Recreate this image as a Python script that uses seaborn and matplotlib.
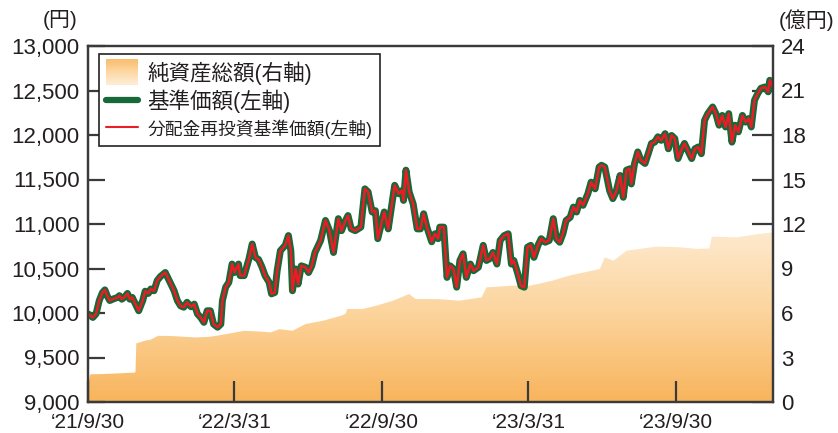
import numpy as np
import pandas as pd
import matplotlib
matplotlib.use("Agg")
import matplotlib.pyplot as plt
import matplotlib.dates as mdates
from matplotlib.colors import LinearSegmentedColormap
from matplotlib.legend_handler import HandlerBase
from matplotlib.patches import Rectangle, Patch
from matplotlib.lines import Line2D
import seaborn as sns

# ---------------- data ----------------
START_DATE = "2021-09-30"

nav_days = [
    0, 6, 10, 14, 18, 21, 24, 27, 32, 37,
    39, 42, 45, 49, 52, 55, 59, 63, 68, 71,
    75, 78, 82, 86, 90, 96, 99, 103, 107, 111,
    115, 119, 123, 128, 132, 136, 140, 144, 148, 152,
    156, 161, 165, 167, 171, 175, 179, 182, 187, 189,
    194, 200, 204, 208, 212, 216, 220, 225, 228, 232,
    235, 239, 245, 249, 252, 254, 258, 261, 265, 270,
    274, 278, 282, 289, 295, 300, 305, 311, 315, 319,
    323, 327, 332, 339, 344, 348, 353, 357, 360, 364,
    368, 373, 381, 386, 390, 392, 395, 399, 404, 409,
    413, 417, 421, 427, 431, 435, 437, 442, 446, 450,
    454, 458, 462, 466, 470, 475, 479, 485, 491, 495,
    499, 503, 508, 512, 517, 522, 526, 529, 534, 538,
    542, 546, 550, 554, 559, 563, 568, 573, 578, 582,
    586, 590, 594, 599, 603, 607, 611, 615, 621, 625,
    630, 635, 638, 642, 648, 652, 656, 661, 665, 669,
    673, 675, 679, 683, 687, 692, 696, 700, 704, 708,
    712, 717, 721, 725, 729, 733, 737, 741, 745, 750,
    754, 758, 762, 766, 770, 776, 780, 784, 788, 792,
    796, 800, 804, 808, 813, 817, 821, 824, 828, 832,
    836, 841, 845, 847, 851,
]
nav_values = [
    9990, 9950, 9990, 10140, 10230, 10260, 10190, 10140, 10160, 10175,
    10195, 10155, 10175, 10220, 10155, 10175, 10100, 10025, 10140, 10245,
    10220, 10270, 10250, 10365, 10410, 10455, 10400, 10325, 10250, 10140,
    10080, 10065, 10120, 10070, 10100, 9990, 9950, 9895, 10025, 10025,
    9875, 9840, 9875, 10140, 10290, 10345, 10550, 10455, 10550, 10420,
    10420, 10610, 10775, 10625, 10600, 10520, 10420, 10345, 10215, 10230,
    10475, 10700, 10760, 10870, 10700, 10250, 10495, 10325, 10530, 10515,
    10455, 10530, 10680, 10815, 11040, 10925, 10680, 11060, 10925, 11020,
    11095, 10945, 10925, 10965, 11395, 11360, 11135, 11150, 10835, 10985,
    11135, 10945, 11435, 11340, 11375, 11265, 11605, 11360, 11225, 10945,
    10945, 11115, 10965, 10800, 10890, 10835, 10965, 10965, 10400, 10530,
    10495, 10290, 10590, 10665, 10400, 10550, 10475, 10515, 10760, 10590,
    10610, 10680, 10550, 10815, 10870, 10890, 10550, 10590, 10440, 10305,
    10290, 10740, 10760, 10625, 10760, 10835, 10795, 10815, 11060, 10835,
    10795, 10890, 11040, 11075, 11190, 11135, 11265, 11210, 11340, 11470,
    11395, 11640, 11660, 11640, 11375, 11285, 11360, 11545, 11300, 11605,
    11620, 11450, 11680, 11810, 11715, 11680, 11790, 11905, 11920, 11980,
    11940, 12015, 11845, 11995, 11960, 11735, 11830, 11905, 11830, 11735,
    11845, 11865, 11790, 12165, 12240, 12315, 12240, 12110, 12220, 12090,
    12240, 11920, 12110, 12035, 12220, 12145, 12185, 12090, 12390, 12465,
    12525, 12540, 12485, 12615, 12540,
]
# no distributions were paid, so the reinvested NAV coincides with the NAV
nav_reinvested_values = list(nav_values)

assets_days = [
    0, 3, 16, 34, 57, 59, 60, 72, 78, 87,
    103, 134, 152, 172, 194, 214, 227, 238, 254, 270,
    292, 314, 320, 322, 341, 358, 379, 399, 407, 434,
    461, 489, 495, 527, 549, 577, 598, 636, 642, 653,
    669, 707, 735, 756, 772, 775, 806, 833, 851,
]
assets_values = [  # 億円
    1.2, 1.87, 1.88, 1.92, 1.98, 2.0, 3.95, 4.15, 4.2, 4.46,
    4.45, 4.35, 4.4, 4.58, 4.8, 4.75, 4.69, 4.91, 4.8, 5.25,
    5.48, 5.81, 5.95, 6.27, 6.27, 6.49, 6.83, 7.28, 6.94, 6.94,
    6.83, 7.05, 7.73, 7.84, 7.84, 8.18, 8.52, 8.97, 9.75, 9.53,
    10.2, 10.48, 10.43, 10.32, 10.35, 11.15, 11.1, 11.33, 11.44,
]

xtick_dates = ["2021-09-30", "2022-03-31", "2022-09-30", "2023-03-31", "2023-09-30"]
xtick_labels = ["‘21/9/30", "‘22/3/31", "‘22/9/30", "‘23/3/31", "‘23/9/30"]
left_ticks = [9000, 9500, 10000, 10500, 11000, 11500, 12000, 12500, 13000]
right_ticks = [0, 3, 6, 9, 12, 15, 18, 21, 24]
legend_labels = ["純資産総額(右軸)", "基準価額(左軸)", "分配金再投資基準価額(左軸)"]
left_unit = "(円)"
right_unit = "(億円)"

assert len(nav_days) == len(nav_values)
assert len(assets_days) == len(assets_values)

# ---------------- style ----------------
sns.set_theme(style="ticks")
FONTS = ["Liberation Sans", "Noto Sans CJK JP", "DejaVu Sans"]
plt.rcParams["font.family"] = FONTS
plt.rcParams["axes.unicode_minus"] = False

GREEN = "#17693a"
RED = "#ec1c24"
AXC = "#3a3a3a"
TXT = "#231f20"
grad_cmap = LinearSegmentedColormap.from_list("nav_grad", ["#f8b45c", "#fcd49c", "#feebd3"])

start = pd.Timestamp(START_DATE)
nav_df = pd.DataFrame({
    "date": start + pd.to_timedelta(nav_days, unit="D"),
    "nav": nav_values,
    "nav_re": nav_reinvested_values,
})
assets_df = pd.DataFrame({
    "date": start + pd.to_timedelta(assets_days, unit="D"),
    "assets": assets_values,
})

fig = plt.figure(figsize=(8.38, 4.33), dpi=100)
ax = fig.add_axes([88 / 838, 1 - 402 / 433, (773 - 88) / 838, (402 - 46) / 433])
ax2 = ax.twinx()
ax.set_zorder(ax2.get_zorder() + 1)
ax.patch.set_visible(False)

# ---- net assets: gradient area on right axis ----
xnum = mdates.date2num(assets_df["date"])
poly = ax2.fill_between(xnum, 0, assets_df["assets"], facecolor="none", edgecolor="none")
grad = np.linspace(0, 1, 256).reshape(-1, 1)
im = ax2.imshow(grad, extent=[xnum[0], xnum[-1], 0, 12], origin="lower",
                aspect="auto", cmap=grad_cmap, zorder=1)
im.set_clip_path(poly.get_paths()[0], transform=ax2.transData)

# ---- NAV lines on left axis ----
sns.lineplot(data=nav_df, x="date", y="nav", ax=ax, color=GREEN, linewidth=5.0,
             solid_joinstyle="round", solid_capstyle="round", legend=False)
sns.lineplot(data=nav_df, x="date", y="nav_re", ax=ax, color=RED, linewidth=1.8,
             solid_joinstyle="round", legend=False)

xmin = start
xmax = start + pd.Timedelta(days=nav_days[-1])
ax.set_xlim(mdates.date2num(xmin), mdates.date2num(xmax))
ax2.set_xlim(mdates.date2num(xmin), mdates.date2num(xmax))
ax.set_ylim(left_ticks[0], left_ticks[-1])
ax2.set_ylim(right_ticks[0], right_ticks[-1])

ax.set_yticks(left_ticks)
ax.set_yticklabels([f"{v:,}" for v in left_ticks])
ax2.set_yticks(right_ticks)
ax2.set_yticklabels([str(v) for v in right_ticks])
ax.set_xticks(mdates.date2num(pd.to_datetime(xtick_dates)))
ax.set_xticklabels(xtick_labels)
ax.set_xlabel("")
ax.set_ylabel("")
ax2.set_ylabel("")

for a in (ax, ax2):
    for s in a.spines.values():
        s.set_visible(True)
        s.set_color(AXC)
        s.set_linewidth(1.6)
ax.tick_params(axis="y", direction="in", length=12, width=1.6, color=AXC,
               labelsize=16, labelcolor=TXT, pad=6)
ax.tick_params(axis="x", direction="in", length=15, width=1.6, color=AXC,
               labelsize=15, labelcolor=TXT, pad=8)
ax2.tick_params(axis="y", direction="in", length=15, width=1.6, color=AXC,
                labelsize=16, labelcolor=TXT, pad=6)
ax2.tick_params(axis="x", bottom=False, top=False, labelbottom=False)

# ---- legend ----
class GradientHandler(HandlerBase):
    def create_artists(self, legend, orig_handle, xdescent, ydescent,
                       width, height, fontsize, trans):
        n = 24
        h = height * 1.45
        y0 = -ydescent - (h - height) / 2
        arts = []
        for i in range(n):
            c = grad_cmap(0.15 + 0.85 * i / (n - 1))
            r = Rectangle((-xdescent, y0 + h - (i + 1) * h / n), width, h / n + 0.3,
                          facecolor=c, edgecolor="none", transform=trans)
            arts.append(r)
        return arts

h_area = Patch(facecolor="#fcc98a")
h_nav = Line2D([], [], color=GREEN, linewidth=4.5, solid_capstyle="round")
h_re = Line2D([], [], color=RED, linewidth=1.5)
leg = ax.legend([h_area, h_nav, h_re], legend_labels,
                handler_map={Patch: GradientHandler()},
                loc="upper left", bbox_to_anchor=(0.016, 0.978), borderaxespad=0,
                frameon=True, fancybox=False, framealpha=1, edgecolor="#222222",
                fontsize=15.5, handlelength=1.45, handleheight=0.85, handletextpad=0.45,
                labelspacing=0.24, borderpad=0.35)
leg.get_frame().set_linewidth(1.2)
for t in leg.get_texts():
    t.set_color(TXT)
leg.get_texts()[2].set_fontsize(12.8)

# ---- unit labels ----
fig.text(60 / 838, 1 - 20 / 433, left_unit, ha="center", va="center",
         fontsize=15, color=TXT)
fig.text(807 / 838, 1 - 20 / 433, right_unit, ha="center", va="center",
         fontsize=15, color=TXT)

fig.savefig("out.png", dpi=100)
